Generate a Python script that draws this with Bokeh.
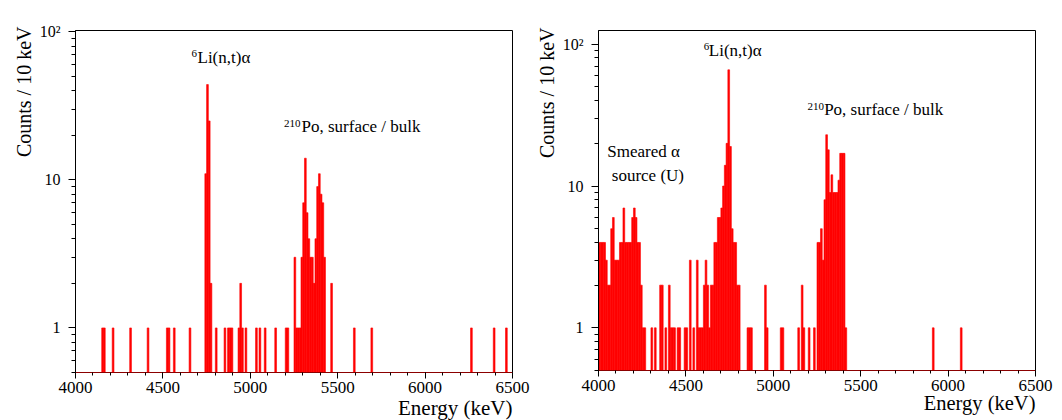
import math
from bokeh.plotting import figure
from bokeh.models import (Range1d, FixedTicker, SingleIntervalTicker, Label,
                          ColumnDataSource, Title)
from bokeh.layouts import row
from bokeh.embed import file_html
from bokeh.resources import INLINE

BIN_WIDTH = 10  # keV

# ---------------- data: left panel ----------------
left_energy = [4150, 4160, 4210, 4310, 4410, 4520, 4530, 4560, 4650,
               4740, 4750, 4760, 4770, 4800, 4850, 4870, 4880, 4890,
               4930, 4940, 4950, 4970, 5030, 5050, 5080, 5140, 5200, 5210,
               5250, 5260, 5270, 5280, 5290, 5300, 5310, 5320, 5330, 5340,
               5350, 5360, 5370, 5380, 5390, 5400, 5410, 5420, 5460,
               5590, 5690, 6260, 6390, 6460]
left_counts = [1, 1, 1, 1, 1, 1, 1, 1, 1,
               11, 44, 25, 2, 1, 1, 1, 1, 1,
               1, 2, 1, 1, 1, 1, 1, 1, 1, 1,
               3, 1, 1, 1, 3, 7, 14, 6, 4, 3,
               3, 2, 4, 9, 11, 8, 7, 3, 2,
               1, 1, 1, 1, 1]

# ---------------- data: right panel ----------------
right_energy = [4000, 4010, 4020, 4030, 4040, 4050, 4060, 4070, 4080, 4090,
                4100, 4110, 4120, 4130, 4140, 4150, 4160, 4170, 4180, 4190,
                4200, 4210, 4220, 4230, 4240, 4250, 4260, 4300, 4320, 4350,
                4360, 4380, 4400, 4410, 4420, 4430, 4450, 4460, 4490, 4500,
                4520, 4540, 4560, 4570, 4580, 4590, 4600, 4610, 4620, 4630,
                4640, 4650, 4660, 4670, 4680, 4690, 4700, 4710, 4720, 4730,
                4740, 4750, 4760, 4770, 4780, 4790, 4800, 4850, 4860, 4870,
                4950, 4960, 5040, 5050, 5140, 5160, 5170, 5200, 5230, 5250,
                5260, 5270, 5280, 5290, 5300, 5310, 5320, 5330, 5340, 5350,
                5360, 5370, 5380, 5390, 5400, 5410, 5910, 6070]
right_counts = [4, 4, 4, 4, 3, 2, 2, 5, 6, 3,
                3, 3, 4, 4, 7, 4, 4, 4, 4, 6,
                7, 6, 4, 4, 2, 1, 1, 1, 1, 2,
                2, 1, 2, 1, 1, 1, 1, 1, 1, 1,
                3, 1, 3, 1, 1, 1, 2, 3, 2, 1,
                2, 2, 4, 4, 6, 6, 7, 10, 14, 20,
                66, 19, 5, 4, 4, 2, 2, 1, 1, 1,
                2, 1, 1, 1, 1, 2, 1, 1, 1, 4,
                4, 5, 3, 8, 23, 18, 9, 12, 9, 9,
                9, 11, 17, 17, 17, 1, 1, 1]

y_ticks_major = [1, 10, 100]
y_tick_labels = {1: "1", 10: "10", 100: "10\u00b2"}

SERIF = "Liberation Serif"
RED = "#ff0000"


def minor_log_ticks():
    out = []
    for k in (-1, 0, 1, 2):
        for m in range(2, 10):
            out.append(m * 10 ** k)
    return out


def make_panel(energy, counts, y_max, top, frame_h, left, right, bottom):
    p = figure(x_range=Range1d(4000, 6500), y_range=Range1d(0.5, y_max),
               y_axis_type="log", frame_width=437, frame_height=frame_h,
               min_border_top=top, min_border_left=left,
               min_border_right=right, min_border_bottom=bottom,
               output_backend="svg", toolbar_location=None)
    src = ColumnDataSource(dict(
        left=energy,
        right=[e + BIN_WIDTH for e in energy],
        top=counts,
        bottom=[0.3] * len(counts)))
    p.quad(left="left", right="right", top="top", bottom="bottom",
           source=src, fill_color=RED, line_color=RED, line_width=0.6)

    p.xgrid.visible = False
    p.ygrid.visible = False
    p.outline_line_color = "black"
    p.outline_line_width = 1
    p.background_fill_color = "white"
    p.border_fill_color = "white"

    xa = p.xaxis[0]
    xa.ticker = SingleIntervalTicker(interval=500, num_minor_ticks=5)
    xa.major_label_text_font = SERIF
    xa.major_label_text_font_size = "17px"
    xa.major_label_text_color = "black"
    xa.major_label_standoff = 3
    xa.major_tick_in = 0
    xa.major_tick_out = 6
    xa.minor_tick_in = 0
    xa.minor_tick_out = 3
    xa.axis_line_color = "#8b0000"
    xa.major_tick_line_color = "black"
    xa.minor_tick_line_color = "black"

    ya = p.yaxis[0]
    ya.ticker = FixedTicker(ticks=y_ticks_major, minor_ticks=minor_log_ticks())
    ya.major_label_overrides = y_tick_labels
    ya.major_label_text_font = SERIF
    ya.major_label_text_font_size = "16px"
    ya.major_label_text_color = "black"
    ya.major_label_standoff = 8
    ya.major_tick_in = 0
    ya.major_tick_out = 7
    ya.minor_tick_in = 0
    ya.minor_tick_out = 4
    ya.axis_line_color = "black"
    return p


def add_text(p, x, y, text, size, **kw):
    p.add_layout(Label(x=x, y=y, text=text, text_font=SERIF,
                       text_font_size=size, text_color="black", **kw))


def add_titles(p, ystand, yoff, xstand, xsize):
    p.add_layout(Title(text="Counts / 10 keV", align="right",
                       text_font=SERIF, text_font_size="20px",
                       text_font_style="normal", text_color="black",
                       standoff=ystand, offset=yoff), "left")
    p.add_layout(Title(text="Energy (keV)", align="right",
                       text_font=SERIF, text_font_size=xsize,
                       text_font_style="normal", text_color="black",
                       standoff=xstand), "below")


# left panel
p1 = make_panel(left_energy, left_counts, 102, 20, 342, 75, 18, 58)
add_text(p1, 4664, 67.5, "6", "11px")
add_text(p1, 4698, 58.1, "Li(n,t)\u03b1", "17px")
add_text(p1, 5193, 22.8, "210", "11px")
add_text(p1, 5293, 19.8, "Po, surface / bulk", "17px")
add_titles(p1, 3, -4, -4, "21px")

# right panel
p2 = make_panel(right_energy, right_counts, 125, 30, 340, 68, 20, 50)
add_text(p2, 4602, 90.7, "6", "11px")
add_text(p2, 4631, 77.9, "Li(n,t)\u03b1", "17px")
add_text(p2, 5195, 34.2, "210", "11px")
add_text(p2, 5291, 29.9, "Po, surface / bulk", "17px")
add_text(p2, 4050, 14.9, "Smeared \u03b1", "17px")
add_text(p2, 4076, 10.1, "source (U)", "17px")
add_titles(p2, 4, -3, -8, "20.5px")

layout = row(p1, p2)
open("out.html", "w").write(file_html(layout, INLINE))
